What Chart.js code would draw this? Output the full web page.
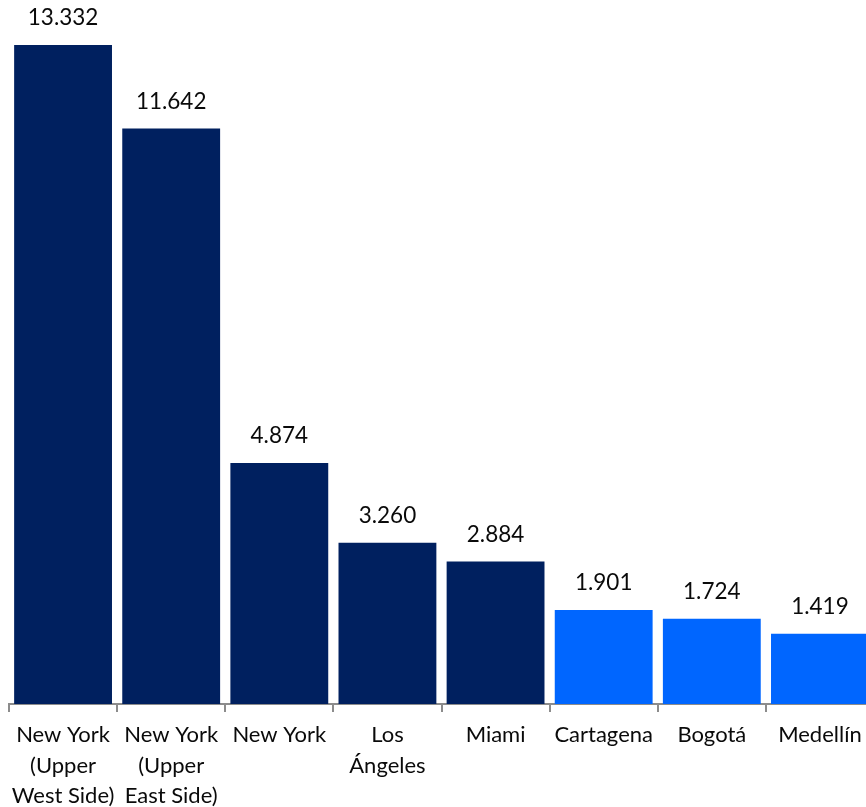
<!DOCTYPE html>
<html>
<head>
<meta charset="utf-8">
<script src="https://cdn.jsdelivr.net/npm/chart.js@4/dist/chart.umd.min.js"></script>
<style>
  html, body { margin: 0; padding: 0; background: #fff; overflow: hidden; }
  .wrap { width: 874px; height: 807px; }
</style>
</head>
<body>
<div class="wrap"><canvas id="chartCities"></canvas></div>
<script>
const cities = [
  ['New York', '(Upper', 'West Side)'],
  ['New York', '(Upper', 'East Side)'],
  'New York',
  ['Los', 'Ángeles'],
  'Miami',
  'Cartagena',
  'Bogotá',
  'Medellín'
];
const values = [13.332, 11.642, 4.874, 3.260, 2.884, 1.901, 1.724, 1.419];
const barColors = ['#00205f', '#00205f', '#00205f', '#00205f', '#00205f', '#0066ff', '#0066ff', '#0066ff'];

const fontFamily = 'Lato, "Open Sans", sans-serif';

// value printed above each bar
const valueLabels = {
  id: 'valueLabels',
  afterDatasetsDraw(chart) {
    const { ctx } = chart;
    const meta = chart.getDatasetMeta(0);
    ctx.save();
    ctx.font = '22.5px ' + fontFamily;
    ctx.fillStyle = '#0a0a0a';
    ctx.textAlign = 'center';
    ctx.textBaseline = 'middle';
    meta.data.forEach((bar, i) => {
      ctx.fillText(values[i].toFixed(3), bar.x, bar.y - 27);
    });
    ctx.restore();
  }
};

const ctx = document.getElementById('chartCities');

new Chart(ctx, {
  type: 'bar',
  data: {
    labels: cities,
    datasets: [{
      data: values,
      backgroundColor: barColors,
      borderWidth: 0,
      barPercentage: 0.905,
      categoryPercentage: 1
    }]
  },
  plugins: [valueLabels],
  options: {
    animation: false,
    responsive: true,
    maintainAspectRatio: false,
    layout: { padding: { left: 9, right: 0, top: 0, bottom: 0 } },
    plugins: {
      legend: { display: false },
      tooltip: { enabled: false }
    },
    scales: {
      y: {
        display: false,
        min: 0,
        max: 14.24
      },
      x: {
        afterFit(scale) { scale.height = 103; },
        border: { color: '#8c8c8c', width: 2 },
        grid: {
          drawOnChartArea: false,
          color: '#8c8c8c',
          lineWidth: 2,
          tickLength: 8
        },
        ticks: {
          color: '#0a0a0a',
          padding: 8,
          maxRotation: 0,
          autoSkip: false,
          font: { family: fontFamily, size: 22, lineHeight: 1.38 }
        }
      }
    }
  }
});
</script>
</body>
</html>
